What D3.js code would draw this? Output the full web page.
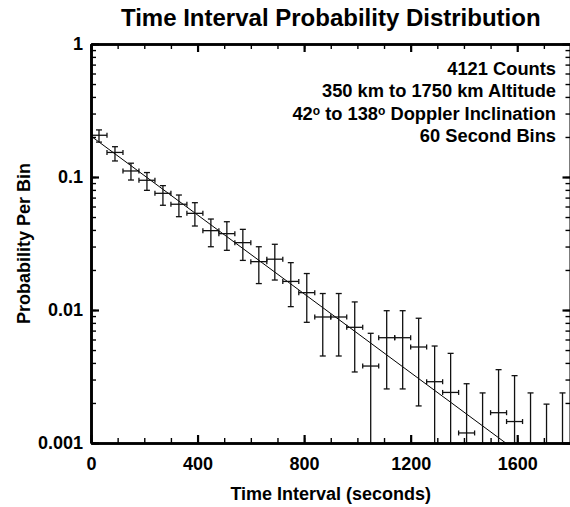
<!DOCTYPE html>
<html><head><meta charset="utf-8">
<script src="https://cdn.jsdelivr.net/npm/d3@7"></script>
<style>
body{margin:0;background:#fff}
svg{display:block}
text{font-family:"Liberation Sans",Arial,Helvetica,sans-serif;font-weight:bold;fill:#000}
</style>
</head><body>
<svg id="chart" width="570" height="507"></svg>
<script>
// ---- data ----
const binCenters = [30,90,150,210,270,330,390,450,510,570,630,690,750,810,870,930,990,1050,1110,1170,1230,1290,1350,1410,1470,1530,1590,1650,1710,1770];
const probability = [0.206,0.153,0.111,0.0945,0.0754,0.0624,0.0533,0.0395,0.0375,0.0321,0.0231,0.0241,0.0164,0.0135,0.00886,0.00886,0.00741,0.00379,0.00619,0.00619,0.00527,0.00289,0.0024,0.00119,0,0.00169,0.00145,0,0,0];
const upperBound = [0.226,0.169,0.127,0.108,0.0861,0.0732,0.0641,0.0483,0.0461,0.0404,0.0299,0.0312,0.0227,0.0188,0.0133,0.0133,0.0115,0.00668,0.00988,0.00988,0.00867,0.00536,0.00472,0.00279,0.00238,0.00356,0.00321,0.00238,0.00196,0.00238];
const lowerBound = [0.183,0.132,0.0949,0.0794,0.0613,0.0503,0.0428,0.0299,0.0281,0.0236,0.0158,0.0168,0.0106,0.00808,0.00451,0.00451,0.00342,0,0.00255,0.00255,0.0019,0,0,0,0,0,0,0,0,0];
const binWidth = 60;
const fitAmplitude = 0.203;   // value of fit at t = 0
const fitTau = 293;           // decay time (s)
const xTickValues = [0,400,800,1200,1600];
const xTickLabels = ["0","400","800","1200","1600"];
const yTickValues = [1,0.1,0.01,0.001];
const yTickLabels = ["1","0.1","0.01","0.001"];
const titleText = "Time Interval Probability Distribution";
const xTitle = "Time Interval (seconds)";
const yTitle = "Probability Per Bin";
const annotationLines = [
  [["4121 Counts",false]],
  [["350 km to 1750 km Altitude",false]],
  [["42",false],["o",true],[" to 138",false],["o",true],[" Doppler Inclination",false]],
  [["60 Second Bins",false]]
];

// ---- layout ----
const L = 91, R = 570.5, T = 44, B = 443;
const svg = d3.select("#chart");
const x = d3.scaleLinear().domain([0,1800]).range([L,R]);
const y = d3.scaleLog().domain([0.001,1]).range([B,T]);
const yc = v => y(Math.max(v, 0.001));

svg.append("defs").append("clipPath").attr("id","plot")
  .append("rect").attr("x",L).attr("y",T).attr("width",R-L).attr("height",B-T);

// fit line
const fitPts = [0,1800].map(t => [t, fitAmplitude*Math.exp(-t/fitTau)]);
svg.append("path")
  .attr("clip-path","url(#plot)")
  .attr("d", d3.line().x(d=>x(d[0])).y(d=>y(d[1]))(fitPts))
  .attr("fill","none").attr("stroke","#000").attr("stroke-width",1);

// error bars
const g = svg.append("g").attr("clip-path","url(#plot)")
  .attr("stroke","#111").attr("stroke-width",1.3).attr("fill","none");
binCenters.forEach((c,i) => {
  const cx = x(c);
  const yTop = yc(upperBound[i]), yBot = yc(lowerBound[i]);
  g.append("line").attr("x1",cx).attr("x2",cx).attr("y1",yTop).attr("y2",yBot);
  g.append("line").attr("x1",cx-3).attr("x2",cx+3).attr("y1",yTop).attr("y2",yTop);
  if (lowerBound[i] > 0.001)
    g.append("line").attr("x1",cx-3).attr("x2",cx+3).attr("y1",yBot).attr("y2",yBot);
  if (probability[i] > 0.001) {
    const py = y(probability[i]);
    const x0 = x(c-binWidth/2), x1 = x(c+binWidth/2);
    g.append("line").attr("x1",x0).attr("x2",x1).attr("y1",py).attr("y2",py);
    g.append("line").attr("x1",x0).attr("x2",x0).attr("y1",py-2.5).attr("y2",py+2.5);
    g.append("line").attr("x1",x1).attr("x2",x1).attr("y1",py-2.5).attr("y2",py+2.5);
  }
});

// axes
const xMinor = d3.range(0,1801,100);
const yMinor = y.ticks();
function styleAxis(sel, major){
  sel.selectAll("path.domain").attr("stroke","#000").attr("stroke-width",2.6);
  sel.selectAll(".tick line").attr("stroke","#000").attr("stroke-width", major ? 2.2 : 1.4);
  sel.selectAll(".tick text").attr("font-size",18).attr("font-family",null);
  sel.attr("font-family",null).attr("font-size",null);
}
// bottom
svg.append("g").attr("transform",`translate(0,${B})`)
  .call(d3.axisBottom(x).tickValues(xMinor).tickSizeInner(-5).tickSizeOuter(0).tickFormat(""))
  .call(s=>styleAxis(s,false));
svg.append("g").attr("transform",`translate(0,${B})`)
  .call(d3.axisBottom(x).tickValues(xTickValues).tickSizeInner(-8).tickSizeOuter(0).tickPadding(14)
        .tickFormat((d,i)=>xTickLabels[i]))
  .call(s=>styleAxis(s,true));
// top
svg.append("g").attr("transform",`translate(0,${T})`)
  .call(d3.axisTop(x).tickValues(xMinor).tickSizeInner(-5).tickSizeOuter(0).tickFormat(""))
  .call(s=>styleAxis(s,false));
svg.append("g").attr("transform",`translate(0,${T})`)
  .call(d3.axisTop(x).tickValues(xTickValues).tickSizeInner(-8).tickSizeOuter(0).tickFormat(""))
  .call(s=>styleAxis(s,true));
// left
svg.append("g").attr("transform",`translate(${L},0)`)
  .call(d3.axisLeft(y).tickValues(yMinor).tickSizeInner(-5).tickSizeOuter(0).tickFormat(""))
  .call(s=>styleAxis(s,false));
svg.append("g").attr("transform",`translate(${L},0)`)
  .call(d3.axisLeft(y).tickValues(yTickValues).tickSizeInner(-8).tickSizeOuter(0).tickPadding(8)
        .tickFormat((d,i)=>yTickLabels[i]))
  .call(s=>styleAxis(s,true));
// right
svg.append("g").attr("transform",`translate(${R},0)`)
  .call(d3.axisRight(y).tickValues(yMinor).tickSizeInner(-5).tickSizeOuter(0).tickFormat(""))
  .call(s=>styleAxis(s,false));
svg.append("g").attr("transform",`translate(${R},0)`)
  .call(d3.axisRight(y).tickValues(yTickValues).tickSizeInner(-8).tickSizeOuter(0).tickFormat(""))
  .call(s=>styleAxis(s,true));

// titles
svg.append("text").attr("x",(L+R)/2).attr("y",26).attr("text-anchor","middle")
  .attr("font-size",24).text(titleText);
svg.append("text").attr("x",(L+R)/2).attr("y",500).attr("text-anchor","middle")
  .attr("font-size",18).text(xTitle);
svg.append("text").attr("transform",`translate(30,${(T+B)/2}) rotate(-90)`).attr("text-anchor","middle")
  .attr("font-size",18).text(yTitle);

// annotation
const annY = [75,97,120,142];
annotationLines.forEach((segs,i) => {
  const t = svg.append("text").attr("x",556).attr("y",annY[i]).attr("text-anchor","end").attr("font-size",18.3);
  segs.forEach(([s,sup]) => {
    const ts = t.append("tspan").text(s);
    if (sup) ts.attr("font-size",12).attr("baseline-shift","45%");
  });
});
</script>
</body></html>
